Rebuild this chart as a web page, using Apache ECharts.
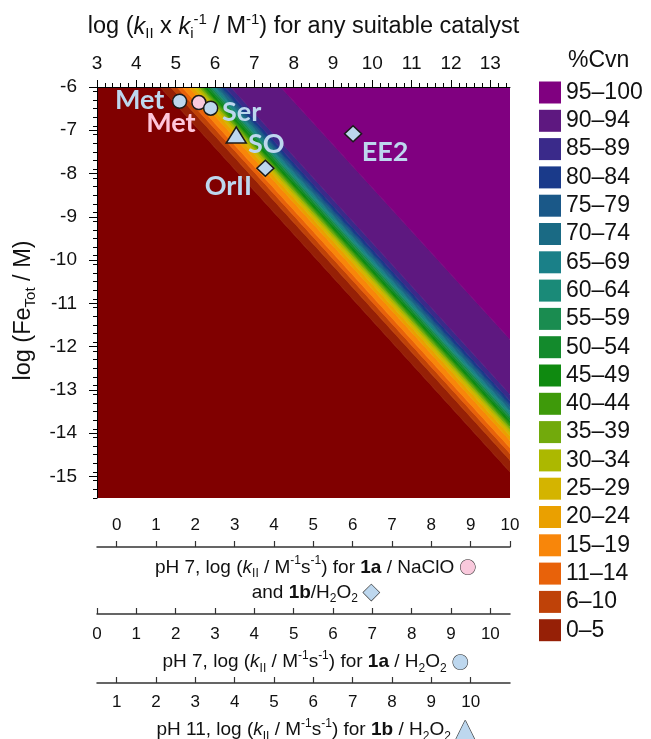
<!DOCTYPE html>
<html>
<head>
<meta charset="utf-8">
<script src="https://cdn.jsdelivr.net/npm/echarts@6/dist/echarts.min.js"></script>
<style>
  html, body { margin: 0; padding: 0; background: #fff; }
  #chart { width: 651px; height: 739px; }
</style>
</head>
<body>
<div id="chart"></div>
<script>
// %Cvn bands: each band begins where log(kII/ki) + log[Fe] reaches the given value
const bandLabels = ['0–5', '6–10', '11–14', '15–19', '20–24', '25–29', '30–34', '35–39', '40–44', '45–49',
                    '50–54', '55–59', '60–64', '65–69', '70–74', '75–79', '80–84', '85–89', '90–94', '95–100'];
const bandStart = [-1.40, -1.13, -0.97, -0.84, -0.67, -0.56, -0.47, -0.40, -0.34, -0.28,
                   -0.21, -0.15, -0.09, -0.03, 0.03, 0.09, 0.16, 0.25, 0.40, 1.67];
const bandColors = ['#962006', '#bf4208', '#e8620a', '#f8860a', '#eaa000', '#d4b400', '#acb800', '#72aa0c', '#3e9a0a', '#0f8a10',
                    '#138a2c', '#1a8c50', '#1a8a78', '#1a8088', '#1a6a84', '#1a5888', '#1a3a8a', '#3a2a8a', '#5e1880', '#800080'];
const belowColor = '#800000';

// axis ticks
const topTicks = [3, 4, 5, 6, 7, 8, 9, 10, 11, 12, 13];
const yTicks = [-6, -7, -8, -9, -10, -11, -12, -13, -14, -15];
const naclTicks = [0, 1, 2, 3, 4, 5, 6, 7, 8, 9, 10];
const h2o2Ticks = [0, 1, 2, 3, 4, 5, 6, 7, 8, 9, 10];
const ph11Ticks = [1, 2, 3, 4, 5, 6, 7, 8, 9, 10];

// substrates: log(kII/ki) on the top scale and log[Fe]
const pointNames = ['Met', 'Met', 'Ser', 'SO', 'OrII', 'EE2'];
const pointX = [5.10, 5.59, 5.89, 6.54, 7.28, 9.51];
const pointY = [-6.33, -6.36, -6.49, -7.11, -7.88, -7.08];
const pointSystem = ['1a/H2O2', '1a/NaClO', '1a/H2O2', '1b/H2O2 pH11', '1b/H2O2', '1b/H2O2'];

// ---------- styling ----------
const FONT = '"Liberation Sans", Arial, sans-serif';
const LIGHT_BLUE = '#bdd7ee';
const PINK = '#f9c9dc';
const systemStyle = {
  '1a/H2O2':      { symbol: 'circle',   size: 14,       fill: LIGHT_BLUE, text: LIGHT_BLUE },
  '1a/NaClO':     { symbol: 'circle',   size: 14,       fill: PINK,       text: '#ffc6db' },
  '1b/H2O2 pH11': { symbol: 'triangle', size: [20, 16], fill: LIGHT_BLUE, text: LIGHT_BLUE },
  '1b/H2O2':      { symbol: 'diamond',  size: [17, 16], fill: LIGHT_BLUE, text: LIGHT_BLUE }
};
const labelOffsets = [[-40, -1], [-28, 21], [31, 4], [30, 9], [-37, 18], [32, 19]];

const X_MIN = 3, X_MAX = 13.5, Y_MIN = -15.5, Y_MAX = -6;

function range(a, b, step, skipWhole) {
  const out = [];
  for (let v = a; v <= b + 1e-9; v += step) {
    const r = Math.round(v * 10) / 10;
    if (skipWhole && Math.abs(r - Math.round(r)) < 1e-6) continue;
    out.push(r);
  }
  return out;
}
const topMinor = range(X_MIN, X_MAX, 0.2, true);
const yMinor = range(Y_MIN, Y_MAX, 0.2, true);

function rich(f) {
  const base = { fontFamily: FONT, fontSize: f, color: '#111', lineHeight: f + 6 };
  const small = Math.round(f * 0.62);
  const sym = (color, size) => ({
    fontFamily: '"DejaVu Sans"', fontSize: size, color: color,
    textBorderColor: '#333', textBorderWidth: 1.2, lineHeight: f + 6
  });
  return {
    n: base,
    i: Object.assign({}, base, { fontStyle: 'italic' }),
    b: Object.assign({}, base, { fontWeight: 'bold' }),
    sub: { fontFamily: FONT, fontSize: small, color: '#111', verticalAlign: 'bottom', lineHeight: small + 2 },
    sup: { fontFamily: FONT, fontSize: small, color: '#111', verticalAlign: 'top', lineHeight: small + 2 },
    pc: sym(PINK, f),
    bc: sym(LIGHT_BLUE, f),
    bd: sym(LIGHT_BLUE, f + 2),
    bt: sym(LIGHT_BLUE, f + 5)
  };
}

const topName = '{n|log (}{i|k}{sub|II}{n| x }{i|k}{sub|i}{sup|-1}{n| / M}{sup|-1}{n|) for any suitable catalyst}';
const yName = '{n|log (Fe}{sub|Tot}{n| / M)}';
const kPart = '{n|log (}{i|k}{sub|II}{n| / M}{sup|-1}{n|s}{sup|-1}{n|) for }';
const naclName = '{n|pH 7, }' + kPart + '{b|1a}{n| / NaClO }{pc|●}\n{n|and }{b|1b}{n|/H}{sub|2}{n|O}{sub|2}{n| }{bd|◆}';
const h2o2Name = '{n|pH 7, }' + kPart + '{b|1a}{n| / H}{sub|2}{n|O}{sub|2}{n| }{bc|●}';
const ph11Name = '{n|pH 11, }' + kPart + '{b|1b}{n| / H}{sub|2}{n|O}{sub|2}{n| }{bt|▲}';

// ---------- band polygons ----------
function bandSeries(name, lo, hi, color) {
  return {
    type: 'custom',
    name: name,
    xAxisIndex: 0,
    yAxisIndex: 0,
    coordinateSystem: 'cartesian2d',
    clip: true,
    silent: true,
    z: 1,
    itemStyle: { color: color },
    data: [[lo, hi]],
    renderItem: function (params, api) {
      const a = api.value(0), b = api.value(1);
      const x0 = X_MIN - 30, x1 = X_MAX + 30;
      const pts = [[x0, a - x0], [x1, a - x1], [x1, b - x1], [x0, b - x0]].map(p => api.coord(p));
      return { type: 'polygon', shape: { points: pts }, style: { fill: color, stroke: color, lineWidth: 0.8 } };
    }
  };
}

const series = [bandSeries('below', -80, bandStart[0], belowColor)];
bandLabels.forEach((lab, i) => {
  const hi = i < bandLabels.length - 1 ? bandStart[i + 1] : 80;
  series.push(bandSeries(lab, bandStart[i], hi, bandColors[i]));
});

series.push({
  type: 'scatter',
  xAxisIndex: 0,
  yAxisIndex: 0,
  z: 5,
  silent: true,
  itemStyle: { opacity: 1 },
  data: pointNames.map((nm, i) => {
    const st = systemStyle[pointSystem[i]];
    return {
      name: nm,
      value: [pointX[i], pointY[i]],
      symbol: st.symbol,
      symbolSize: st.size,
      itemStyle: { color: st.fill, borderColor: '#1a1a1a', borderWidth: 1.5, opacity: 1 },
      label: {
        show: true,
        formatter: nm,
        position: 'inside',
        offset: labelOffsets[i],
        color: st.text,
        opacity: 1,
        fontFamily: 'Lato, "Open Sans", sans-serif',
        fontWeight: 'bold',
        fontSize: 27
      }
    };
  })
});

// ---------- axes ----------
const tickStyle = { color: '#000', width: 1 };
const labelFont = { fontFamily: FONT, color: '#111' };

function bottomAxis(min, max, offset, ticks, labelsInside, margin, name, nameGap) {
  return {
    type: 'value', position: 'bottom', offset: offset, min: min, max: max, z: 10,
    axisLine: { show: true, onZero: false, lineStyle: { color: '#333', width: 1.5 } },
    axisTick: { show: true, inside: true, length: 6, customValues: ticks, lineStyle: { color: '#333', width: 1.2 } },
    axisLabel: Object.assign({ customValues: ticks, inside: labelsInside, margin: margin, fontSize: 17 }, labelFont),
    splitLine: { show: false },
    name: name, nameLocation: 'middle', nameGap: nameGap,
    nameTextStyle: { rich: rich(19), verticalAlign: 'middle', align: 'center', padding: [0, 0, 0, 24] }
  };
}

const option = {
  backgroundColor: '#fff',
  animation: false,
  title: {
    text: '%Cvn', left: 563, top: 44,
    textStyle: { fontFamily: FONT, fontSize: 23, fontWeight: 'normal', color: '#111' }
  },
  legend: {
    orient: 'vertical', left: 534, top: 76,
    itemWidth: 22, itemHeight: 22, itemGap: 5.3,
    icon: 'rect', selectedMode: false,
    data: bandLabels.slice().reverse(),
    textStyle: { fontFamily: FONT, fontSize: 23, color: '#111', lineHeight: 23 }
  },
  grid: { left: 97, top: 87, right: 141, bottom: 241, containLabel: false, outerBoundsMode: 'none' },
  xAxis: [
    {
      type: 'value', position: 'top', min: X_MIN, max: X_MAX, z: 10,
      axisLine: { show: true, onZero: false, lineStyle: tickStyle },
      axisTick: { show: true, length: 7, customValues: topTicks, lineStyle: tickStyle },
      axisLabel: Object.assign({ customValues: topTicks, margin: 14, fontSize: 19 }, labelFont),
      splitLine: { show: false },
      name: topName, nameLocation: 'middle', nameGap: 60,
      nameTextStyle: { rich: rich(23.5), verticalAlign: 'middle', align: 'center' }
    },
    {
      type: 'value', position: 'top', min: X_MIN, max: X_MAX, z: 10,
      axisLine: { show: false, onZero: false },
      axisTick: { show: true, length: 4, customValues: topMinor, lineStyle: tickStyle },
      axisLabel: { show: false },
      splitLine: { show: false }
    },
    bottomAxis(X_MIN - 3.5, X_MAX - 3.5, 49, naclTicks, true, 13, naclName, 33),
    bottomAxis(X_MIN - 3, X_MAX - 3, 116, h2o2Ticks, false, 12, h2o2Name, 48),
    bottomAxis(X_MIN - 2.5, X_MAX - 2.5, 185, ph11Ticks, false, 11, ph11Name, 47)
  ],
  yAxis: [
    {
      type: 'value', position: 'left', min: Y_MIN, max: Y_MAX, z: 10,
      axisLine: { show: true, onZero: false, lineStyle: tickStyle },
      axisTick: { show: true, length: 8, customValues: yTicks, lineStyle: tickStyle },
      axisLabel: Object.assign({ customValues: yTicks, margin: 20, fontSize: 19 }, labelFont),
      splitLine: { show: false },
      name: yName, nameLocation: 'middle', nameGap: 70, nameRotate: 90,
      nameTextStyle: { rich: rich(23.5), verticalAlign: 'middle', align: 'center', padding: [0, 36, 0, 0] }
    },
    {
      type: 'value', position: 'left', min: Y_MIN, max: Y_MAX, z: 10,
      axisLine: { show: false, onZero: false },
      axisTick: { show: true, length: 4, customValues: yMinor, lineStyle: tickStyle },
      axisLabel: { show: false },
      splitLine: { show: false }
    }
  ],
  series: series
};

const chart = echarts.init(document.getElementById('chart'), null, { renderer: 'canvas' });
chart.setOption(option);
</script>
</body>
</html>
